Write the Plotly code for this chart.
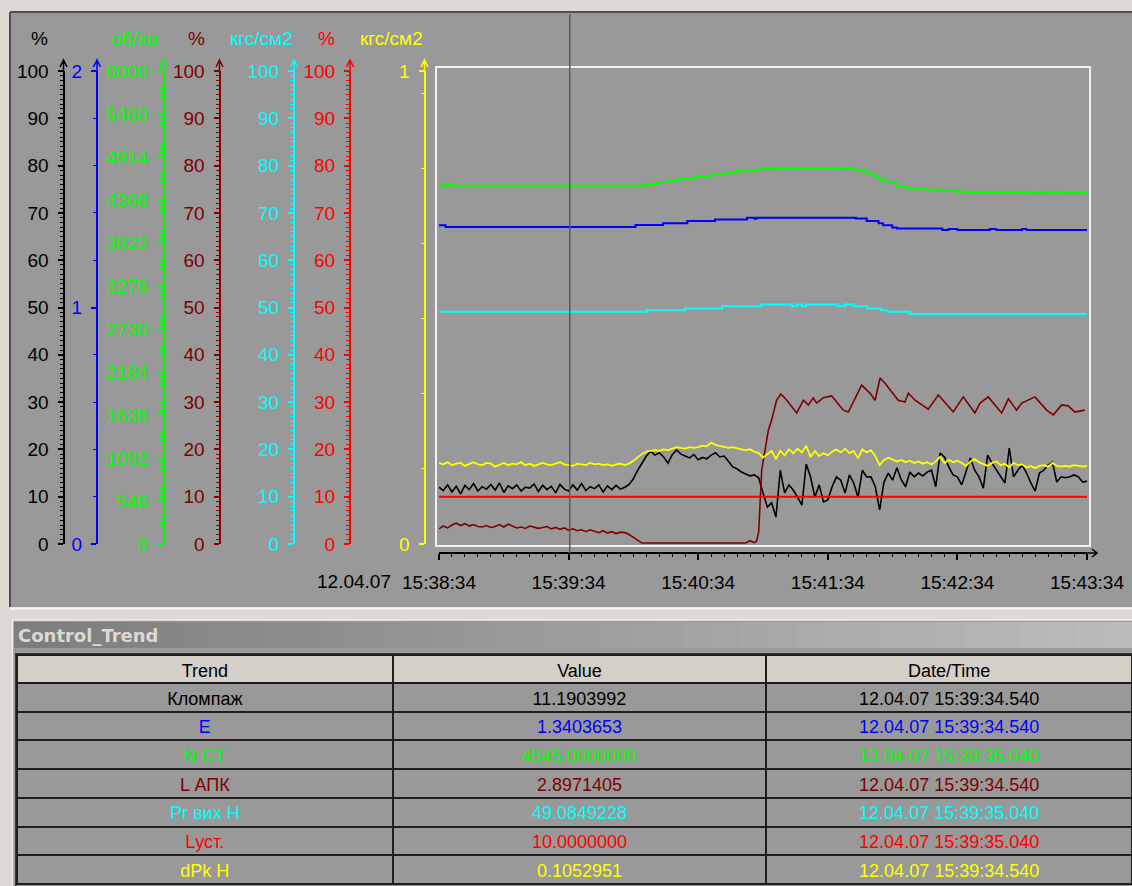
import plotly.graph_objects as go

W, H = 1132, 886
FONT = "Liberation Sans, Arial, sans-serif"

# ---------------- time axis (seconds after 15:38:34) ----------------
TICK_T = [0, 60, 120, 180, 240, 300]
TICK_TEXT = ["15:38:34", "15:39:34", "15:40:34", "15:41:34", "15:42:34", "15:43:34"]
DATE_TEXT = "12.04.07"
CURSOR_T = 60.54  # 15:39:34.540

# fast-sampled trends (2 s step)
FAST_T = list(range(0, 301, 2))

# Кломпаж, %
KLOMPAZH = [
    12.0, 11.3, 12.5, 11.0, 12.2, 10.6, 12.4, 11.5, 12.8, 11.2,
    12.1, 11.6, 12.6, 11.4, 12.9, 10.9, 12.3, 11.7, 12.5, 11.2,
    12.0, 11.8, 12.7, 11.1, 12.4, 11.5, 12.2, 10.8, 12.6, 11.6,
    11.2, 12.5, 11.4, 12.8, 11.3, 12.1, 11.7, 12.5, 11.0, 12.3,
    11.5, 12.4, 11.6, 12.0, 12.6, 13.8, 15.6, 17.2, 18.6, 19.6,
    18.8, 19.3, 18.4, 17.1, 18.9, 19.9, 19.0, 18.6, 18.2, 18.9,
    17.8, 18.3, 18.0, 18.8, 19.3, 18.4, 18.6, 17.5, 16.3, 15.9,
    15.2, 14.8, 14.4, 14.6, 14.0, 10.8, 7.8, 8.7, 5.7, 15.6,
    10.8, 12.5, 11.4, 9.9, 8.2, 16.9, 14.2, 9.9, 12.5, 8.9,
    9.3, 12.1, 14.2, 13.5, 10.8, 14.6, 12.9, 9.9, 15.6, 14.2,
    14.2, 12.1, 7.2, 13.1, 15.0, 13.5, 16.1, 13.6, 12.1, 15.2,
    14.2, 15.0, 14.4, 15.2, 15.6, 12.1, 19.2, 18.4, 16.3, 14.6,
    14.2, 12.5, 15.6, 18.2, 15.6, 14.2, 11.8, 18.8, 17.1, 15.6,
    14.2, 12.9, 20.3, 14.2, 15.6, 16.7, 15.0, 12.9, 11.2, 15.0,
    15.6, 16.7, 17.3, 13.1, 14.2, 14.0, 14.2, 14.6, 14.2, 13.1,
    13.3,
]

# dPk H, кгс/см2
DPK_H = [
    0.108, 0.106, 0.109, 0.105, 0.107, 0.108, 0.104, 0.107, 0.109, 0.106,
    0.105, 0.108, 0.107, 0.103, 0.106, 0.108, 0.105, 0.107, 0.106, 0.109,
    0.105, 0.107, 0.104, 0.106, 0.108, 0.106, 0.105, 0.107, 0.109, 0.106,
    0.105, 0.104, 0.107, 0.106, 0.105, 0.108, 0.106, 0.107, 0.105, 0.106,
    0.104, 0.106, 0.107, 0.105, 0.107, 0.111, 0.116, 0.120, 0.123, 0.124,
    0.125, 0.124, 0.126, 0.125, 0.127, 0.129, 0.128, 0.127, 0.129, 0.128,
    0.129, 0.131, 0.130, 0.135, 0.132, 0.131, 0.129, 0.128, 0.129, 0.127,
    0.126, 0.125, 0.126, 0.123, 0.121, 0.115, 0.120, 0.124, 0.113, 0.124,
    0.118, 0.126, 0.121, 0.127, 0.122, 0.131, 0.116, 0.124, 0.117, 0.121,
    0.118, 0.123, 0.126, 0.122, 0.127, 0.121, 0.124, 0.114, 0.126, 0.122,
    0.125, 0.117, 0.105, 0.112, 0.115, 0.113, 0.110, 0.112, 0.109, 0.111,
    0.108, 0.110, 0.107, 0.109, 0.106, 0.110, 0.116, 0.108, 0.112, 0.109,
    0.111, 0.108, 0.104, 0.110, 0.113, 0.109, 0.106, 0.104, 0.108, 0.110,
    0.105, 0.107, 0.102, 0.108, 0.105, 0.106, 0.102, 0.104, 0.101, 0.104,
    0.105, 0.103, 0.108, 0.104, 0.103, 0.104, 0.103, 0.105, 0.104, 0.103,
    0.104,
]

# L АПК, %
LAPK_T = [
    0, 2, 4, 6, 8, 10, 12, 14, 16, 18,
    20, 22, 24, 26, 28, 30, 32, 34, 36, 38,
    40, 42, 44, 46, 48, 50, 52, 54, 56, 58,
    60, 62, 64, 66, 68, 70, 72, 74, 76, 78,
    80, 82, 84, 86, 88, 90, 92, 94, 96, 142,
    144, 146, 147, 148, 149.4, 151, 152.5, 154, 156.3, 158.3,
    161, 165.6, 168.7, 171, 173.3, 174.8, 177.9, 181.8, 187.2, 189.5,
    191.8, 195.7, 199.5, 201.9, 204.2, 206.5, 212.6, 215.7, 217.3, 220.4,
    226.5, 231.2, 238.1, 242.7, 248.1, 250.5, 254.3, 260.5, 263.6, 267.4,
    269.8, 275.9, 281.3, 284.4, 288.3, 291.3, 294.4, 299,
]
LAPK = [
    3.2, 3.8, 3.4, 4.0, 4.4, 3.9, 4.3, 3.8, 4.1, 3.7,
    3.6, 3.9, 3.5, 3.7, 4.1, 3.6, 4.2, 3.8, 3.4, 3.6,
    3.3, 3.8, 3.6, 3.3, 3.5, 3.7, 3.2, 3.5, 3.1, 3.4,
    2.9, 3.2, 2.8, 3.0, 2.6, 3.0, 2.7, 2.4, 2.8, 2.3,
    2.6, 2.2, 2.5, 2.4, 2.0, 1.4, 0.8, 0.2, 0.2, 0.2,
    0.7, 0.3, 0.6, 2.5, 15.6, 20.5, 24.1, 26.2, 30.4, 31.7,
    30.4, 27.7, 30.4, 29.4, 30.9, 29.8, 30.9, 31.3, 28.3, 27.9,
    30.0, 33.6, 31.9, 30.4, 35.1, 34.0, 30.4, 30.0, 31.9, 30.4,
    28.5, 31.5, 27.9, 31.1, 27.7, 29.8, 31.1, 27.7, 30.7, 28.3,
    29.8, 31.1, 28.3, 27.3, 29.4, 29.2, 27.9, 28.3,
]

# N CT, об/хв
NCT_T = [0, 2, 4, 6, 90, 95, 100.5, 106, 111, 118, 125.5, 132, 138, 149, 152, 155,
         158, 161, 185, 189, 192, 195, 198, 201.4, 204, 207.7, 212, 217, 222.4, 228,
         233, 240, 245, 254, 260, 265, 270, 275, 280, 285, 290, 295, 300]
NCT = [4541, 4560, 4567, 4545, 4545, 4560, 4585, 4609, 4630, 4659, 4690, 4710, 4735, 4766, 4755, 4766,
       4755, 4766, 4755, 4766, 4745, 4730, 4700, 4659, 4620, 4580, 4540, 4512, 4500, 4490,
       4478, 4469, 4460, 4456, 4465, 4456, 4460, 4448, 4460, 4456, 4448, 4456, 4460]

# E
E_T = [0, 3, 91, 103.7, 115, 127.8, 142.6, 146, 147, 193, 198, 203.5, 205.6, 209.8, 212,
       233, 236, 240, 255, 258, 270, 272, 300]
E = [1.348, 1.340, 1.349, 1.356, 1.366, 1.372, 1.380, 1.375, 1.380, 1.376, 1.366, 1.356, 1.348,
     1.338, 1.334, 1.328, 1.332, 1.328, 1.332, 1.328, 1.332, 1.328, 1.328]

# Pr вих H, кгс/см2
PR_T = [0, 96.3, 114, 131, 148.8, 163.4, 165.6, 168, 170, 184.6, 188, 192, 198.3, 204.5,
        207.7, 218, 300]
PR = [49.08, 49.4, 49.8, 50.25, 50.65, 50.25, 50.65, 50.25, 50.65, 50.25, 50.65, 50.25,
      49.8, 49.4, 49.08, 48.65, 48.65]

# Lуст., %
LUST_T = [0, 300]
LUST = [10.0, 10.0]

# ---------------- current values table ----------------
TABLE_TREND = ["Кломпаж", "E", "N CT", "L АПК", "Pr вих H", "Lуст.", "dPk H"]
TABLE_VALUE = ["11.1903992", "1.3403653", "4545.0000000", "2.8971405",
               "49.0849228", "10.0000000", "0.1052951"]
TABLE_TIME = ["12.04.07 15:39:34.540", "12.04.07 15:39:34.540", "12.04.07 15:39:35.040",
              "12.04.07 15:39:34.540", "12.04.07 15:39:35.040", "12.04.07 15:39:35.040",
              "12.04.07 15:39:34.540"]
TREND_COLORS = ["#000000", "#0000ff", "#00ff00", "#800000", "#00ffff", "#ff0000", "#ffff00"]

# ---------------- scales ----------------
GREEN_TICKS = ["0", "546", "1092", "1638", "2184", "2730", "3276", "3822", "4368", "4914", "5460", "6000"]
PCT_TICKS = [str(v) for v in range(0, 101, 10)]


def px(x):
    return x / W


def py(y):
    return 1 - y / H


YD = [py(544), py(71)]
BG = "#999999"


def yaxis(color, rng, tickvals, ticktext, minor_dtick, xpix, overlay=True):
    d = dict(
        domain=YD, range=rng, anchor="free", position=px(xpix), side="left",
        showline=True, linecolor=color, linewidth=2,
        ticks="outside", ticklen=5, tickwidth=1.5, tickcolor=color,
        tickmode="array", tickvals=tickvals, ticktext=ticktext,
        tickfont=dict(family=FONT, size=19, color=color),
        ticklabelstandoff=5,
        minor=dict(dtick=minor_dtick, tick0=0, ticks="outside", ticklen=3,
                   tickwidth=1, tickcolor=color),
        showgrid=False, zeroline=False, fixedrange=True, automargin=False,
    )
    if overlay:
        d["overlaying"] = "y"
    return d


# axis: (key, color, range, tickvals, ticktext, minor step, x pixel, unit, unit x)
AXES = [
    ("yaxis", "#000000", [0, 100], list(range(0, 101, 10)), PCT_TICKS, 1, 63.5, "%", 39),
    ("yaxis2", "#0000ff", [0, 2], [0, 1, 2], ["0", "1", "2"], 0.2, 97, None, None),
    ("yaxis3", "#00ff00", [0, 6000], [i * 6000 / 11 for i in range(12)], GREEN_TICKS,
     6000 / 110, 163.5, "об/хв", 135),
    ("yaxis4", "#800000", [0, 100], list(range(0, 101, 10)), PCT_TICKS, 1, 219.5, "%", 196),
    ("yaxis5", "#00ffff", [0, 100], list(range(0, 101, 10)), PCT_TICKS, 1, 294, "кгс/см2", 261),
    ("yaxis6", "#ff0000", [0, 100], list(range(0, 101, 10)), PCT_TICKS, 1, 350, "%", 326),
    ("yaxis7", "#ffff00", [0, 0.63], [0, 0.63], ["0", "1"], 0.1, 424.5, "кгс/см2", 391),
]

fig = go.Figure()


def add_line(x, y, yref, color, width, shape="linear"):
    fig.add_trace(go.Scatter(
        x=x, y=y, yaxis=yref, mode="lines",
        line=dict(color=color, width=width, shape=shape),
        hoverinfo="skip", showlegend=False,
    ))


add_line(FAST_T, KLOMPAZH, "y", "#000000", 1.6)
add_line(E_T, E, "y2", "#0000ff", 2, "hv")
add_line(NCT_T, NCT, "y3", "#00ff00", 2, "hv")
add_line(LAPK_T, LAPK, "y4", "#800000", 1.6)
add_line(PR_T, PR, "y5", "#00ffff", 2, "hv")
add_line(LUST_T, LUST, "y6", "#ff0000", 2)
add_line(FAST_T, DPK_H, "y7", "#ffff00", 1.8)

# current values table
fig.add_trace(go.Table(
    domain=dict(x=[px(17), 1.0], y=[0, py(655)]),
    columnwidth=[376, 374, 366],
    header=dict(
        values=["Trend", "Value", "Date/Time"],
        fill_color="#d4d0c8", line=dict(color="#1e1e1e", width=2),
        font=dict(family=FONT, size=18, color="#000000"),
        height=28, align="center",
    ),
    cells=dict(
        values=[TABLE_TREND, TABLE_VALUE, TABLE_TIME],
        fill_color=BG, line=dict(color="#1e1e1e", width=2),
        font=dict(family=FONT, size=18, color=[TREND_COLORS] * 3),
        height=28.7, align="center",
    ),
))

shapes = []


def rect(x0, y0, x1, y1, fill=None, line=None, lw=0, layer="below"):
    shapes.append(dict(type="rect", xref="paper", yref="paper",
                       x0=px(x0), x1=px(x1), y0=py(y1), y1=py(y0),
                       fillcolor=fill if fill else "rgba(0,0,0,0)",
                       line=dict(color=line if line else "rgba(0,0,0,0)", width=lw),
                       layer=layer))


def seg(x0, y0, x1, y1, color, lw, layer="below"):
    shapes.append(dict(type="line", xref="paper", yref="paper",
                       x0=px(x0), x1=px(x1), y0=py(y0), y1=py(y1),
                       line=dict(color=color, width=lw), layer=layer))


# window panels
rect(10, 12, W + 2, 607, fill=BG)
seg(10, 12, W, 12, "#505050", 2)
seg(10, 12, 10, 607, "#505050", 2)
seg(10, 608.5, W, 608.5, "#f4f4f4", 2)
rect(12, 620, W + 2, H + 2, fill=BG)
seg(12.5, 620, 12.5, H, "#f0f0f0", 1.5)
seg(12, 620, W, 620, "#f0f0f0", 1.5)

# caption bar with a left-to-right shading
N_STRIPES = 40
x_start, x_end = 14, W
for i in range(N_STRIPES):
    f = i / (N_STRIPES - 1)
    c = int(126 + f * (188 - 126))
    xa = x_start + (x_end - x_start) * i / N_STRIPES
    xb = x_start + (x_end - x_start) * (i + 1) / N_STRIPES + 0.8
    rect(xa, 622, xb, 648, fill=f"rgb({c},{c},{c})")
seg(15, 654, W, 654, "#3a3a3a", 2)
seg(16, 654, 16, H, "#3a3a3a", 2)

# plot frame
rect(436, 67, 1090, 546, line="#f2f2f2", lw=2)

# axis arrowheads
for key, color, rng, tv, tt, mdt, xpix, unit, ux in AXES:
    path = (f"M {px(xpix)},{py(71)} L {px(xpix)},{py(60)} "
            f"M {px(xpix - 3.5)},{py(67)} L {px(xpix)},{py(60)} L {px(xpix + 3.5)},{py(67)}")
    shapes.append(dict(type="path", xref="paper", yref="paper", path=path,
                       line=dict(color=color, width=1.5), layer="above"))

# time axis arrow
path = (f"M {px(1087)},{py(553)} L {px(1097)},{py(553)} "
        f"M {px(1092)},{py(549)} L {px(1097)},{py(553)} L {px(1092)},{py(557)}")
shapes.append(dict(type="path", xref="paper", yref="paper", path=path,
                   line=dict(color="#000000", width=1.5), layer="above"))

# cursor
shapes.append(dict(type="line", xref="x", yref="paper", x0=CURSOR_T, x1=CURSOR_T,
                   y0=py(553), y1=py(14), line=dict(color="#5a5a5a", width=1.5),
                   layer="above"))

annotations = []
for key, color, rng, tv, tt, mdt, xpix, unit, ux in AXES:
    if unit:
        annotations.append(dict(x=px(ux), y=py(38), xref="paper", yref="paper",
                                text=unit, showarrow=False, xanchor="center", yanchor="middle",
                                font=dict(family=FONT, size=19, color=color)))
annotations.append(dict(x=px(393), y=py(581), xref="paper", yref="paper", text=DATE_TEXT,
                        showarrow=False, xanchor="right", yanchor="middle",
                        font=dict(family=FONT, size=19, color="#000000")))
annotations.append(dict(x=px(16), y=py(635), xref="paper", yref="paper", text="<b>Control_Trend</b>",
                        showarrow=False, xanchor="left", yanchor="middle",
                        font=dict(family="DejaVu Sans, sans-serif", size=18, color="#dcd9d2")))

layout = dict(
    width=W, height=H, autosize=False,
    margin=dict(l=0, r=0, t=0, b=0, pad=0),
    paper_bgcolor="#dddad4", plot_bgcolor="rgba(0,0,0,0)",
    showlegend=False,
    xaxis=dict(
        domain=[px(439), px(1087)], range=[0, 300], anchor="free", position=py(553),
        showline=True, linecolor="#000000", linewidth=1.5,
        ticks="outside", ticklen=6, tickwidth=1.5, tickcolor="#000000",
        tickmode="array", tickvals=TICK_T, ticktext=TICK_TEXT,
        tickfont=dict(family=FONT, size=19, color="#000000"),
        ticklabelstandoff=6,
        minor=dict(dtick=6, tick0=0, ticks="outside", ticklen=3, tickwidth=1, tickcolor="#000000"),
        showgrid=False, zeroline=False, fixedrange=True, automargin=False,
    ),
    shapes=shapes,
    annotations=annotations,
)
for key, color, rng, tv, tt, mdt, xpix, unit, ux in AXES:
    layout[key] = yaxis(color, rng, tv, tt, mdt, xpix, overlay=(key != "yaxis"))

fig.update_layout(**layout)

assert len(KLOMPAZH) == len(FAST_T) and len(DPK_H) == len(FAST_T)
assert len(LAPK) == len(LAPK_T) and len(NCT) == len(NCT_T)
assert len(E) == len(E_T) and len(PR) == len(PR_T)

fig.write_html("out.html", config={"displayModeBar": False})
